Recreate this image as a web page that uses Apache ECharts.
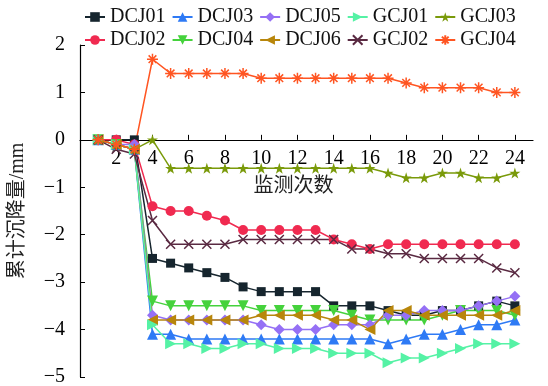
<!DOCTYPE html>
<html>
<head>
<meta charset="utf-8">
<style>
  html, body { margin: 0; padding: 0; background: #fff; }
  #chart { width: 548px; height: 386px; }
</style>
<script src="https://cdn.jsdelivr.net/npm/echarts@6/dist/echarts.min.js"></script>
</head>
<body>
<div id="chart"></div>
<script>
// Monitoring rounds (x) and accumulated settlement per point (mm)
const times = [1, 2, 3, 4, 5, 6, 7, 8, 9, 10, 11, 12, 13, 14, 15, 16, 17, 18, 19, 20, 21, 22, 23, 24];
const xTicks = [2, 4, 6, 8, 10, 12, 14, 16, 18, 20, 22, 24];
const yTicks = [-5, -4, -3, -2, -1, 0, 1, 2];

const DCJ01 = [0, 0, 0, -2.5, -2.6, -2.7, -2.8, -2.9, -3.1, -3.2, -3.2, -3.2, -3.2, -3.5, -3.5, -3.5, -3.6, -3.7, -3.7, -3.6, -3.6, -3.5, -3.4, -3.5];
const DCJ02 = [0, 0, -0.1, -1.4, -1.5, -1.5, -1.6, -1.7, -1.9, -1.9, -1.9, -1.9, -1.9, -2.1, -2.2, -2.3, -2.2, -2.2, -2.2, -2.2, -2.2, -2.2, -2.2, -2.2];
const DCJ03 = [0, -0.1, -0.2, -4.1, -4.1, -4.2, -4.2, -4.2, -4.2, -4.2, -4.2, -4.2, -4.2, -4.2, -4.2, -4.2, -4.3, -4.2, -4.1, -4.1, -4.0, -3.9, -3.9, -3.8];
const DCJ04 = [0, -0.1, -0.2, -3.4, -3.5, -3.5, -3.5, -3.5, -3.5, -3.6, -3.6, -3.6, -3.6, -3.6, -3.7, -3.8, -3.8, -3.8, -3.8, -3.7, -3.6, -3.6, -3.6, -3.7];
const DCJ05 = [0, -0.1, -0.1, -3.7, -3.8, -3.8, -3.8, -3.8, -3.8, -3.9, -4.0, -4.0, -4.0, -3.9, -3.9, -3.9, -3.7, -3.7, -3.6, -3.6, -3.6, -3.5, -3.4, -3.3];
const DCJ06 = [0, -0.1, -0.2, -3.8, -3.8, -3.8, -3.8, -3.8, -3.8, -3.7, -3.7, -3.7, -3.7, -3.8, -3.8, -4.0, -3.6, -3.6, -3.7, -3.7, -3.7, -3.7, -3.7, -3.6];
const GCJ01 = [0, -0.1, -0.2, -3.9, -4.3, -4.3, -4.4, -4.4, -4.3, -4.3, -4.4, -4.4, -4.4, -4.5, -4.5, -4.5, -4.7, -4.6, -4.6, -4.5, -4.4, -4.3, -4.3, -4.3];
const GCJ02 = [0, -0.2, -0.3, -1.7, -2.2, -2.2, -2.2, -2.2, -2.1, -2.1, -2.1, -2.1, -2.1, -2.1, -2.3, -2.3, -2.4, -2.4, -2.5, -2.5, -2.5, -2.5, -2.7, -2.8];
const GCJ03 = [0, -0.1, -0.2, 0, -0.6, -0.6, -0.6, -0.6, -0.6, -0.6, -0.6, -0.6, -0.6, -0.6, -0.6, -0.6, -0.7, -0.8, -0.8, -0.7, -0.7, -0.8, -0.8, -0.7];
const GCJ04 = [0, -0.1, -0.2, 1.7, 1.4, 1.4, 1.4, 1.4, 1.4, 1.3, 1.3, 1.3, 1.3, 1.3, 1.3, 1.3, 1.3, 1.2, 1.1, 1.1, 1.1, 1.1, 1.0, 1.0];

const legendRow1 = ['DCJ01', 'DCJ03', 'DCJ05', 'GCJ01', 'GCJ03'];
const legendRow2 = ['DCJ02', 'DCJ04', 'DCJ06', 'GCJ02', 'GCJ04'];

const FONT = '"Liberation Serif", "Times New Roman", "Noto Sans CJK SC", serif';

const STAR = 'path://M5,0L6.18,3.6L10,3.6L6.9,5.8L8.1,9.5L5,7.2L1.9,9.5L3.1,5.8L0,3.6L3.82,3.6Z';
const CROSS = 'path://M0,0L10,10M10,0L0,10';
const ASTER = 'path://M5,0L5,10M0,5L10,5M1.5,1.5L8.5,8.5M8.5,1.5L1.5,8.5';

const seriesDefs = [
  { name: 'DCJ01', values: DCJ01, color: '#16252e', symbol: 'rect', size: 9 },
  { name: 'DCJ02', values: DCJ02, color: '#f02a50', symbol: 'circle', size: 10 },
  { name: 'DCJ03', values: DCJ03, color: '#2e7af5', symbol: 'triangle', size: 11 },
  { name: 'DCJ04', values: DCJ04, color: '#45d23c', symbol: 'triangle', size: 11, rotate: 180 },
  { name: 'DCJ05', values: DCJ05, color: '#9570f5', symbol: 'diamond', size: 11 },
  { name: 'DCJ06', values: DCJ06, color: '#b8860b', symbol: 'triangle', size: 11, rotate: 90 },
  { name: 'GCJ01', values: GCJ01, color: '#55f2a5', symbol: 'triangle', size: 11, rotate: -90 },
  { name: 'GCJ02', values: GCJ02, color: '#5a2a42', symbol: CROSS, size: 9, stroke: true },
  { name: 'GCJ03', values: GCJ03, color: '#7a9a0a', symbol: STAR, size: 11 },
  { name: 'GCJ04', values: GCJ04, color: '#ff5522', symbol: ASTER, size: 11, stroke: true }
];

const series = seriesDefs.map(d => ({
  name: d.name,
  type: 'line',
  data: times.map((t, i) => [t, d.values[i]]),
  symbol: d.symbol,
  symbolSize: d.size,
  symbolRotate: d.rotate || 0,
  showAllSymbol: true,
  animation: false,
  lineStyle: { color: d.color, width: 1.5 },
  itemStyle: d.stroke
    ? { color: d.color, borderColor: d.color, borderWidth: 1.5 }
    : { color: d.color, borderWidth: 0 },
  emphasis: { disabled: true }
}));

const legendCommon = {
  left: 79,
  orient: 'horizontal',
  itemWidth: 20,
  itemHeight: 12,
  itemGap: 6,
  textStyle: { fontFamily: FONT, fontSize: 20, color: '#111' },
  selectedMode: false
};

const minus = v => String(v).replace('-', '\u2212');

const chart = echarts.init(document.getElementById('chart'), null, { renderer: 'canvas' });
chart.setOption({
  backgroundColor: '#fff',
  animation: false,
  legend: [
    Object.assign({ top: 2, data: legendRow1 }, legendCommon),
    Object.assign({ top: 25, data: legendRow2 }, legendCommon)
  ],
  grid: { left: 80, right: 15, top: 45, bottom: 9, containLabel: false, outerBoundsMode: 'none' },
  xAxis: {
    type: 'value',
    min: 0,
    max: 25,
    name: '监测次数',
    nameLocation: 'middle',
    nameGap: 37,
    nameTextStyle: { fontFamily: FONT, fontSize: 20, color: '#222', padding: [0, 26, 0, 0] },
    axisLine: { show: true, onZero: false, lineStyle: { color: '#000', width: 1.2 } },
    axisTick: { inside: true, length: 5, customValues: xTicks, lineStyle: { color: '#000' } },
    axisLabel: { customValues: xTicks, margin: 9, fontFamily: FONT, fontSize: 20, color: '#000' },
    splitLine: { show: false }
  },
  yAxis: {
    type: 'value',
    min: -5,
    max: 2,
    interval: 1,
    name: '累计沉降量/mm',
    nameLocation: 'middle',
    nameGap: 52,
    nameRotate: 90,
    nameTextStyle: { fontFamily: FONT, fontSize: 20, color: '#222' },
    axisLine: { show: true, onZero: false, lineStyle: { color: '#000', width: 1.2 } },
    axisTick: { inside: true, length: 5, customValues: yTicks, lineStyle: { color: '#000' } },
    axisLabel: { customValues: yTicks, margin: 15, fontFamily: FONT, fontSize: 20, color: '#000', formatter: minus },
    splitLine: { show: false }
  },
  series: series
});

// Lift the round axis so it runs along the zero settlement line
const zeroY = chart.convertToPixel({ yAxisIndex: 0 }, 0);
const floorY = chart.convertToPixel({ yAxisIndex: 0 }, -5);
chart.setOption({ xAxis: { offset: zeroY - floorY } });
</script>
</body>
</html>
